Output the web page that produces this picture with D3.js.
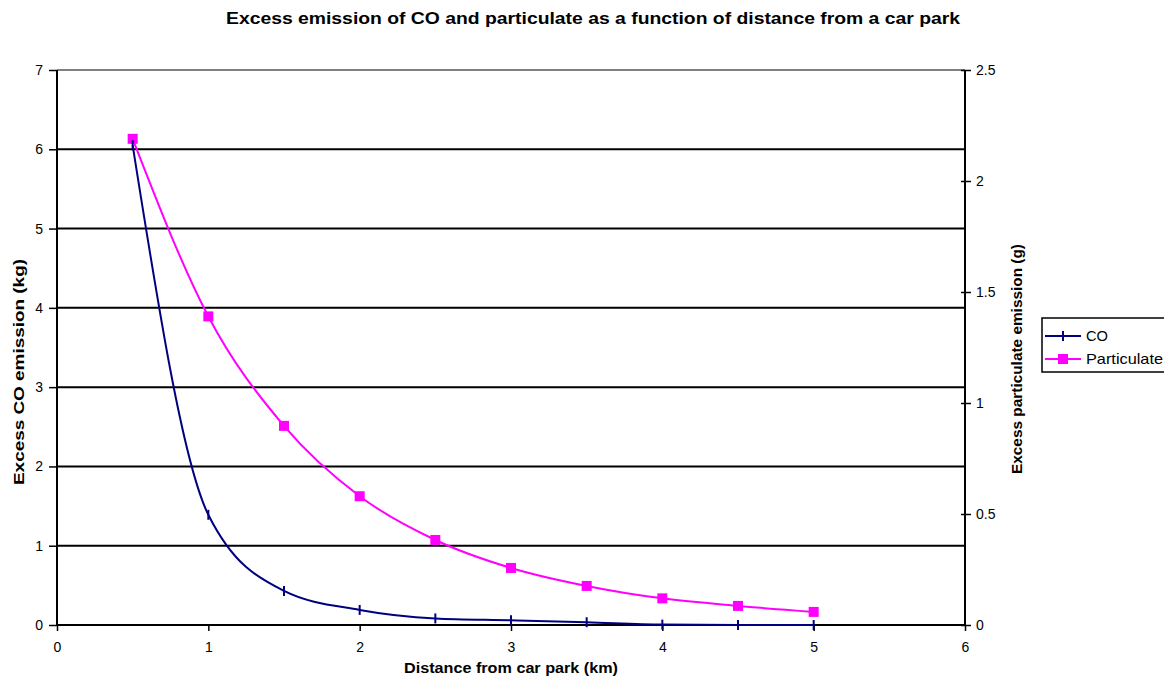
<!DOCTYPE html>
<html>
<head>
<meta charset="utf-8">
<script src="https://cdn.jsdelivr.net/npm/d3@7"></script>
<style>
  body { margin: 0; background: #fff; }
  svg { font-family: "Liberation Sans", Arial, sans-serif; }
</style>
</head>
<body>
<div id="chart"></div>
<script>
// distance from car park (km)
const distance = [0.5, 1, 1.5, 2, 2.5, 3, 3.5, 4, 4.5, 5];
// excess CO emission (kg), left axis
const coValues = [6.05, 1.39, 0.43, 0.19, 0.083, 0.06, 0.035, 0.005, 0, 0];
// excess particulate emission (g), right axis
const particulateValues = [2.19, 1.39, 0.897, 0.58, 0.383, 0.257, 0.176, 0.12, 0.086, 0.059];

const xTicks = [0, 1, 2, 3, 4, 5, 6];
const leftTicks = [0, 1, 2, 3, 4, 5, 6, 7];
const rightTicks = [0, 0.5, 1, 1.5, 2, 2.5];

const config = {
  width: 1164,
  height: 685,
  margin: { top: 70, right: 199, bottom: 60, left: 57 }
};

const svg = d3.select("#chart")
  .append("svg")
  .attr("width", config.width)
  .attr("height", config.height);

const x0 = config.margin.left;
const x1 = config.width - config.margin.right;
const y0 = config.height - config.margin.bottom;
const y1 = config.margin.top;

const x = d3.scaleLinear().domain([0, 6]).range([x0, x1]);
const yLeft = d3.scaleLinear().domain([0, 7]).range([y0, y1]);
const yRight = d3.scaleLinear().domain([0, 2.5]).range([y0, y1]);

// gridlines
svg.append("g")
  .selectAll("line")
  .data(leftTicks.filter(d => d > 0 && d < 7))
  .join("line")
  .attr("x1", x0).attr("x2", x1)
  .attr("y1", d => yLeft(d)).attr("y2", d => yLeft(d))
  .attr("stroke", "#000")
  .attr("stroke-width", 2);

// plot area top border
svg.append("line")
  .attr("x1", x0).attr("x2", x1)
  .attr("y1", y1).attr("y2", y1)
  .attr("stroke", "#808080")
  .attr("stroke-width", 2);

// left axis
const leftAxis = svg.append("g")
  .attr("transform", `translate(${x0},0)`)
  .call(d3.axisLeft(yLeft).tickValues(leftTicks).tickSize(8).tickPadding(6).tickFormat(d3.format("d")));

// bottom axis
const bottomAxis = svg.append("g")
  .attr("transform", `translate(0,${y0})`)
  .call(d3.axisBottom(x).tickValues(xTicks).tickSize(6).tickPadding(11).tickFormat(d3.format("d")));

// right axis
const rightAxis = svg.append("g")
  .attr("transform", `translate(${x1},0)`)
  .call(d3.axisRight(yRight).tickValues(rightTicks).tickSize(6).tickPadding(5).tickFormat(d => d));

[leftAxis, bottomAxis, rightAxis].forEach(g => {
  g.select(".domain").remove();
  g.selectAll(".tick line").attr("stroke", "#000").attr("stroke-width", 1.5);
  g.selectAll(".tick text").attr("font-size", 14).attr("fill", "#000")
    .attr("font-family", "'Liberation Sans', Arial, sans-serif");
});
// right ticks cross the axis
rightAxis.selectAll(".tick line").attr("x1", -4);

// axis lines
svg.append("line").attr("x1", x0).attr("x2", x0).attr("y1", y1).attr("y2", y0 + 1)
  .attr("stroke", "#000").attr("stroke-width", 2);
svg.append("line").attr("x1", x1).attr("x2", x1).attr("y1", y1).attr("y2", y0 + 1)
  .attr("stroke", "#000").attr("stroke-width", 2);
svg.append("line").attr("x1", x0).attr("x2", x1).attr("y1", y0).attr("y2", y0)
  .attr("stroke", "#000").attr("stroke-width", 2);

// series lines, smoothed
const coLine = d3.line()
  .x((d, i) => x(distance[i]))
  .y(d => yLeft(d))
  .curve(d3.curveMonotoneX);

const partLine = d3.line()
  .x((d, i) => x(distance[i]))
  .y(d => yRight(d))
  .curve(d3.curveMonotoneX);

svg.append("path")
  .datum(particulateValues)
  .attr("d", partLine)
  .attr("fill", "none")
  .attr("stroke", "#ff00ff")
  .attr("stroke-width", 2);

svg.append("g")
  .selectAll("rect")
  .data(particulateValues)
  .join("rect")
  .attr("x", (d, i) => x(distance[i]) - 5)
  .attr("y", d => yRight(d) - 5)
  .attr("width", 10)
  .attr("height", 10)
  .attr("fill", "#ff00ff");

svg.append("path")
  .datum(coValues)
  .attr("d", coLine)
  .attr("fill", "none")
  .attr("stroke", "#000080")
  .attr("stroke-width", 2);

svg.append("g")
  .selectAll("line")
  .data(coValues)
  .join("line")
  .attr("x1", (d, i) => x(distance[i]))
  .attr("x2", (d, i) => x(distance[i]))
  .attr("y1", d => yLeft(d) - 5)
  .attr("y2", d => yLeft(d) + 5)
  .attr("stroke", "#000080")
  .attr("stroke-width", 2);

// title
svg.append("text")
  .attr("x", 593)
  .attr("y", 24)
  .attr("text-anchor", "middle")
  .attr("font-size", 16)
  .attr("font-weight", "bold")
  .attr("textLength", 734)
  .attr("lengthAdjust", "spacingAndGlyphs")
  .text("Excess emission of CO and particulate as a function of distance from a car park");

// axis titles
svg.append("text")
  .attr("x", (x0 + x1) / 2)
  .attr("y", 673)
  .attr("text-anchor", "middle")
  .attr("font-size", 14)
  .attr("font-weight", "bold")
  .attr("textLength", 214)
  .attr("lengthAdjust", "spacingAndGlyphs")
  .text("Distance from car park (km)");

svg.append("text")
  .attr("transform", `translate(24,372) rotate(-90)`)
  .attr("text-anchor", "middle")
  .attr("font-size", 14)
  .attr("font-weight", "bold")
  .attr("textLength", 226)
  .attr("lengthAdjust", "spacingAndGlyphs")
  .text("Excess CO emission (kg)");

svg.append("text")
  .attr("transform", `translate(1022,359) rotate(-90)`)
  .attr("text-anchor", "middle")
  .attr("font-size", 14)
  .attr("font-weight", "bold")
  .attr("textLength", 230)
  .attr("lengthAdjust", "spacingAndGlyphs")
  .text("Excess particulate emission (g)");

// legend
const legend = svg.append("g").attr("transform", "translate(1042,318)");
legend.append("rect")
  .attr("x", 0).attr("y", 0)
  .attr("width", 140).attr("height", 54)
  .attr("fill", "#fff")
  .attr("stroke", "#000")
  .attr("stroke-width", 1.5);

const legendItems = [
  { name: "CO", color: "#000080", marker: "plus", width: 22 },
  { name: "Particulate", color: "#ff00ff", marker: "square", width: 77 }
];

const item = legend.selectAll(".item")
  .data(legendItems)
  .join("g")
  .attr("class", "item")
  .attr("transform", (d, i) => `translate(3,${18 + i * 23})`);

item.append("line")
  .attr("x1", 0).attr("x2", 36)
  .attr("y1", 0).attr("y2", 0)
  .attr("stroke", d => d.color)
  .attr("stroke-width", 2);

item.filter(d => d.marker === "plus").append("line")
  .attr("x1", 18).attr("x2", 18).attr("y1", -5).attr("y2", 5)
  .attr("stroke", d => d.color).attr("stroke-width", 2);

item.filter(d => d.marker === "square").append("rect")
  .attr("x", 13).attr("y", -5).attr("width", 10).attr("height", 10)
  .attr("fill", d => d.color);

item.append("text")
  .attr("x", 41)
  .attr("y", 5)
  .attr("font-size", 15)
  .attr("textLength", d => d.width)
  .attr("lengthAdjust", "spacingAndGlyphs")
  .text(d => d.name);
</script>
</body>
</html>
